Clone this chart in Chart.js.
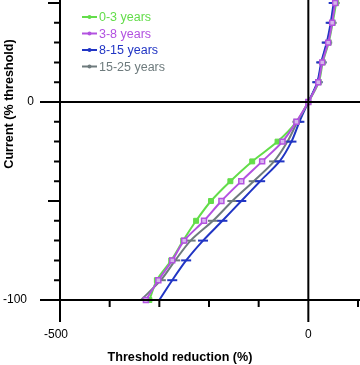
<!DOCTYPE html>
<html>
<head>
<meta charset="utf-8">
<script src="https://cdn.jsdelivr.net/npm/chart.js@4"></script>
<style>
  html, body { margin: 0; padding: 0; background: #fff; }
  #wrap { width: 360px; height: 365px; }
</style>
</head>
<body>
<div id="wrap"><canvas id="chart" width="360" height="365"></canvas></div>
<script>
// current levels (% threshold), top to bottom
const currentLevels = [50, 40, 30, 20, 10, 0, -10, -20, -30, -40, -50, -60, -70, -80, -90, -100];

// threshold reduction (%) for each age group
const reduction0to3 = [56, 49, 41, 29, 21, 0, -24, -62, -113, -157, -196, -226, -252, -276, -305, -320];
const reduction3to8 = [54, 48, 40, 28, 20, 0, -24, -52, -93, -135, -175, -210, -250, -274, -302, -327];
const reduction8to15 = [51, 45, 37, 26, 18, 0, -18, -34, -58, -97, -135, -173, -212, -246, -274, -300];
const reduction15to25 = [53, 47, 38, 27, 19, 0, -22, -42, -69, -110, -153, -192, -237, -268, -297, -337];

const seriesNames = ['0-3 years', '3-8 years', '8-15 years', '15-25 years'];
const seriesColors = ['#63dd4a', '#b252e0', '#2135c4', '#6e7b7d'];

const xMajorTicks = [-500, 0];
const xMinorTicks = [-400, -300, -200, -100, 100];
const yMajorTicks = [50, 0, -50, -100];
const yLabels = [0, -100];

const FONT = "'Liberation Sans', Arial, sans-serif";

function toPoints(xs) {
  return xs.map((x, i) => ({ x: x, y: currentLevels[i] }));
}

// axes, ticks, titles and legend drawn with the chart's own scales
const axesPlugin = {
  id: 'axesPlugin',
  afterDraw(chart) {
    const ctx = chart.ctx;
    const xs = chart.scales.x;
    const ys = chart.scales.y;
    const x0 = xs.getPixelForValue(0);
    const xLeft = xs.getPixelForValue(-500);
    const yZero = ys.getPixelForValue(0);
    const yBottom = ys.getPixelForValue(-100);
    const yTop = ys.getPixelForValue(50);

    ctx.save();
    ctx.strokeStyle = '#000';
    ctx.lineWidth = 2;
    ctx.lineCap = 'butt';

    // main lines
    ctx.beginPath();
    ctx.moveTo(xLeft, yTop - 3); ctx.lineTo(xLeft, yBottom + 22);
    ctx.moveTo(x0, yTop - 3); ctx.lineTo(x0, yBottom + 22);
    ctx.moveTo(xLeft - 20, yBottom); ctx.lineTo(360, yBottom);
    ctx.moveTo(xLeft - 20, yZero); ctx.lineTo(360, yZero);
    ctx.stroke();

    // y ticks
    ctx.beginPath();
    for (let v = -100; v <= 50; v += 10) {
      const py = ys.getPixelForValue(v);
      const len = yMajorTicks.includes(v) ? 12 : 6;
      ctx.moveTo(xLeft - len, py); ctx.lineTo(xLeft, py);
    }
    // x minor ticks
    xMinorTicks.forEach(v => {
      const px = xs.getPixelForValue(v);
      ctx.moveTo(px, yBottom); ctx.lineTo(px, yBottom + 7);
    });
    ctx.stroke();

    // tick labels
    ctx.fillStyle = '#000';
    ctx.font = '12px ' + FONT;
    ctx.textBaseline = 'middle';
    ctx.textAlign = 'right';
    yLabels.forEach(v => {
      const w = v === 0 ? 34 : 27;
      ctx.fillText(String(v), w, ys.getPixelForValue(v));
    });
    ctx.textAlign = 'center';
    xMajorTicks.forEach(v => {
      ctx.fillText(String(v), xs.getPixelForValue(v) - (v === -500 ? 4 : 0), 335);
    });

    // axis titles
    ctx.font = 'bold 12.6px ' + FONT;
    ctx.fillText('Threshold reduction (%)', 180, 358);
    ctx.save();
    ctx.translate(10, 104);
    ctx.rotate(-Math.PI / 2);
    ctx.fillText('Current (% threshold)', 0, 0);
    ctx.restore();

    // legend
    ctx.font = '12.5px ' + FONT;
    ctx.textAlign = 'left';
    seriesNames.forEach((name, i) => {
      const ly = 17 + i * 16.5;
      ctx.strokeStyle = seriesColors[i];
      ctx.fillStyle = seriesColors[i];
      ctx.lineWidth = 2;
      ctx.beginPath();
      ctx.moveTo(82, ly); ctx.lineTo(97, ly);
      ctx.stroke();
      ctx.beginPath();
      ctx.arc(89.5, ly, 2, 0, Math.PI * 2);
      ctx.fill();
      ctx.fillText(name, 99, ly + 1);
    });
    ctx.restore();
  }
};

const ctx = document.getElementById('chart').getContext('2d');

new Chart(ctx, {
  type: 'scatter',
  data: {
    datasets: [
      {
        label: seriesNames[3],
        data: toPoints(reduction15to25),
        borderColor: seriesColors[3],
        backgroundColor: seriesColors[3],
        pointStyle: 'line',
        pointRadius: 5,
        pointBorderWidth: 2,
        order: 4
      },
      {
        label: seriesNames[2],
        data: toPoints(reduction8to15),
        borderColor: seriesColors[2],
        backgroundColor: seriesColors[2],
        pointStyle: 'line',
        pointRadius: 5,
        pointBorderWidth: 2,
        order: 3
      },
      {
        label: seriesNames[0],
        data: toPoints(reduction0to3),
        borderColor: seriesColors[0],
        backgroundColor: seriesColors[0],
        pointStyle: 'rect',
        pointRadius: 3.5,
        pointBorderWidth: 1,
        order: 2
      },
      {
        label: seriesNames[1],
        data: toPoints(reduction3to8),
        borderColor: seriesColors[1],
        backgroundColor: 'rgba(220,190,240,0.9)',
        pointStyle: 'rect',
        pointRadius: 3.5,
        pointBorderWidth: 1.5,
        order: 1
      }
    ].map(ds => Object.assign(ds, {
      showLine: true,
      borderWidth: 2,
      tension: 0.3,
      clip: false
    }))
  },
  options: {
    responsive: false,
    animation: false,
    layout: { autoPadding: false, padding: { left: 60, right: 2, top: 3, bottom: 65 } },
    plugins: {
      legend: { display: false },
      tooltip: { enabled: false }
    },
    scales: {
      x: { type: 'linear', min: -500, max: 100, display: false },
      y: { type: 'linear', min: -100, max: 50, display: false }
    }
  },
  plugins: [axesPlugin]
});
</script>
</body>
</html>
